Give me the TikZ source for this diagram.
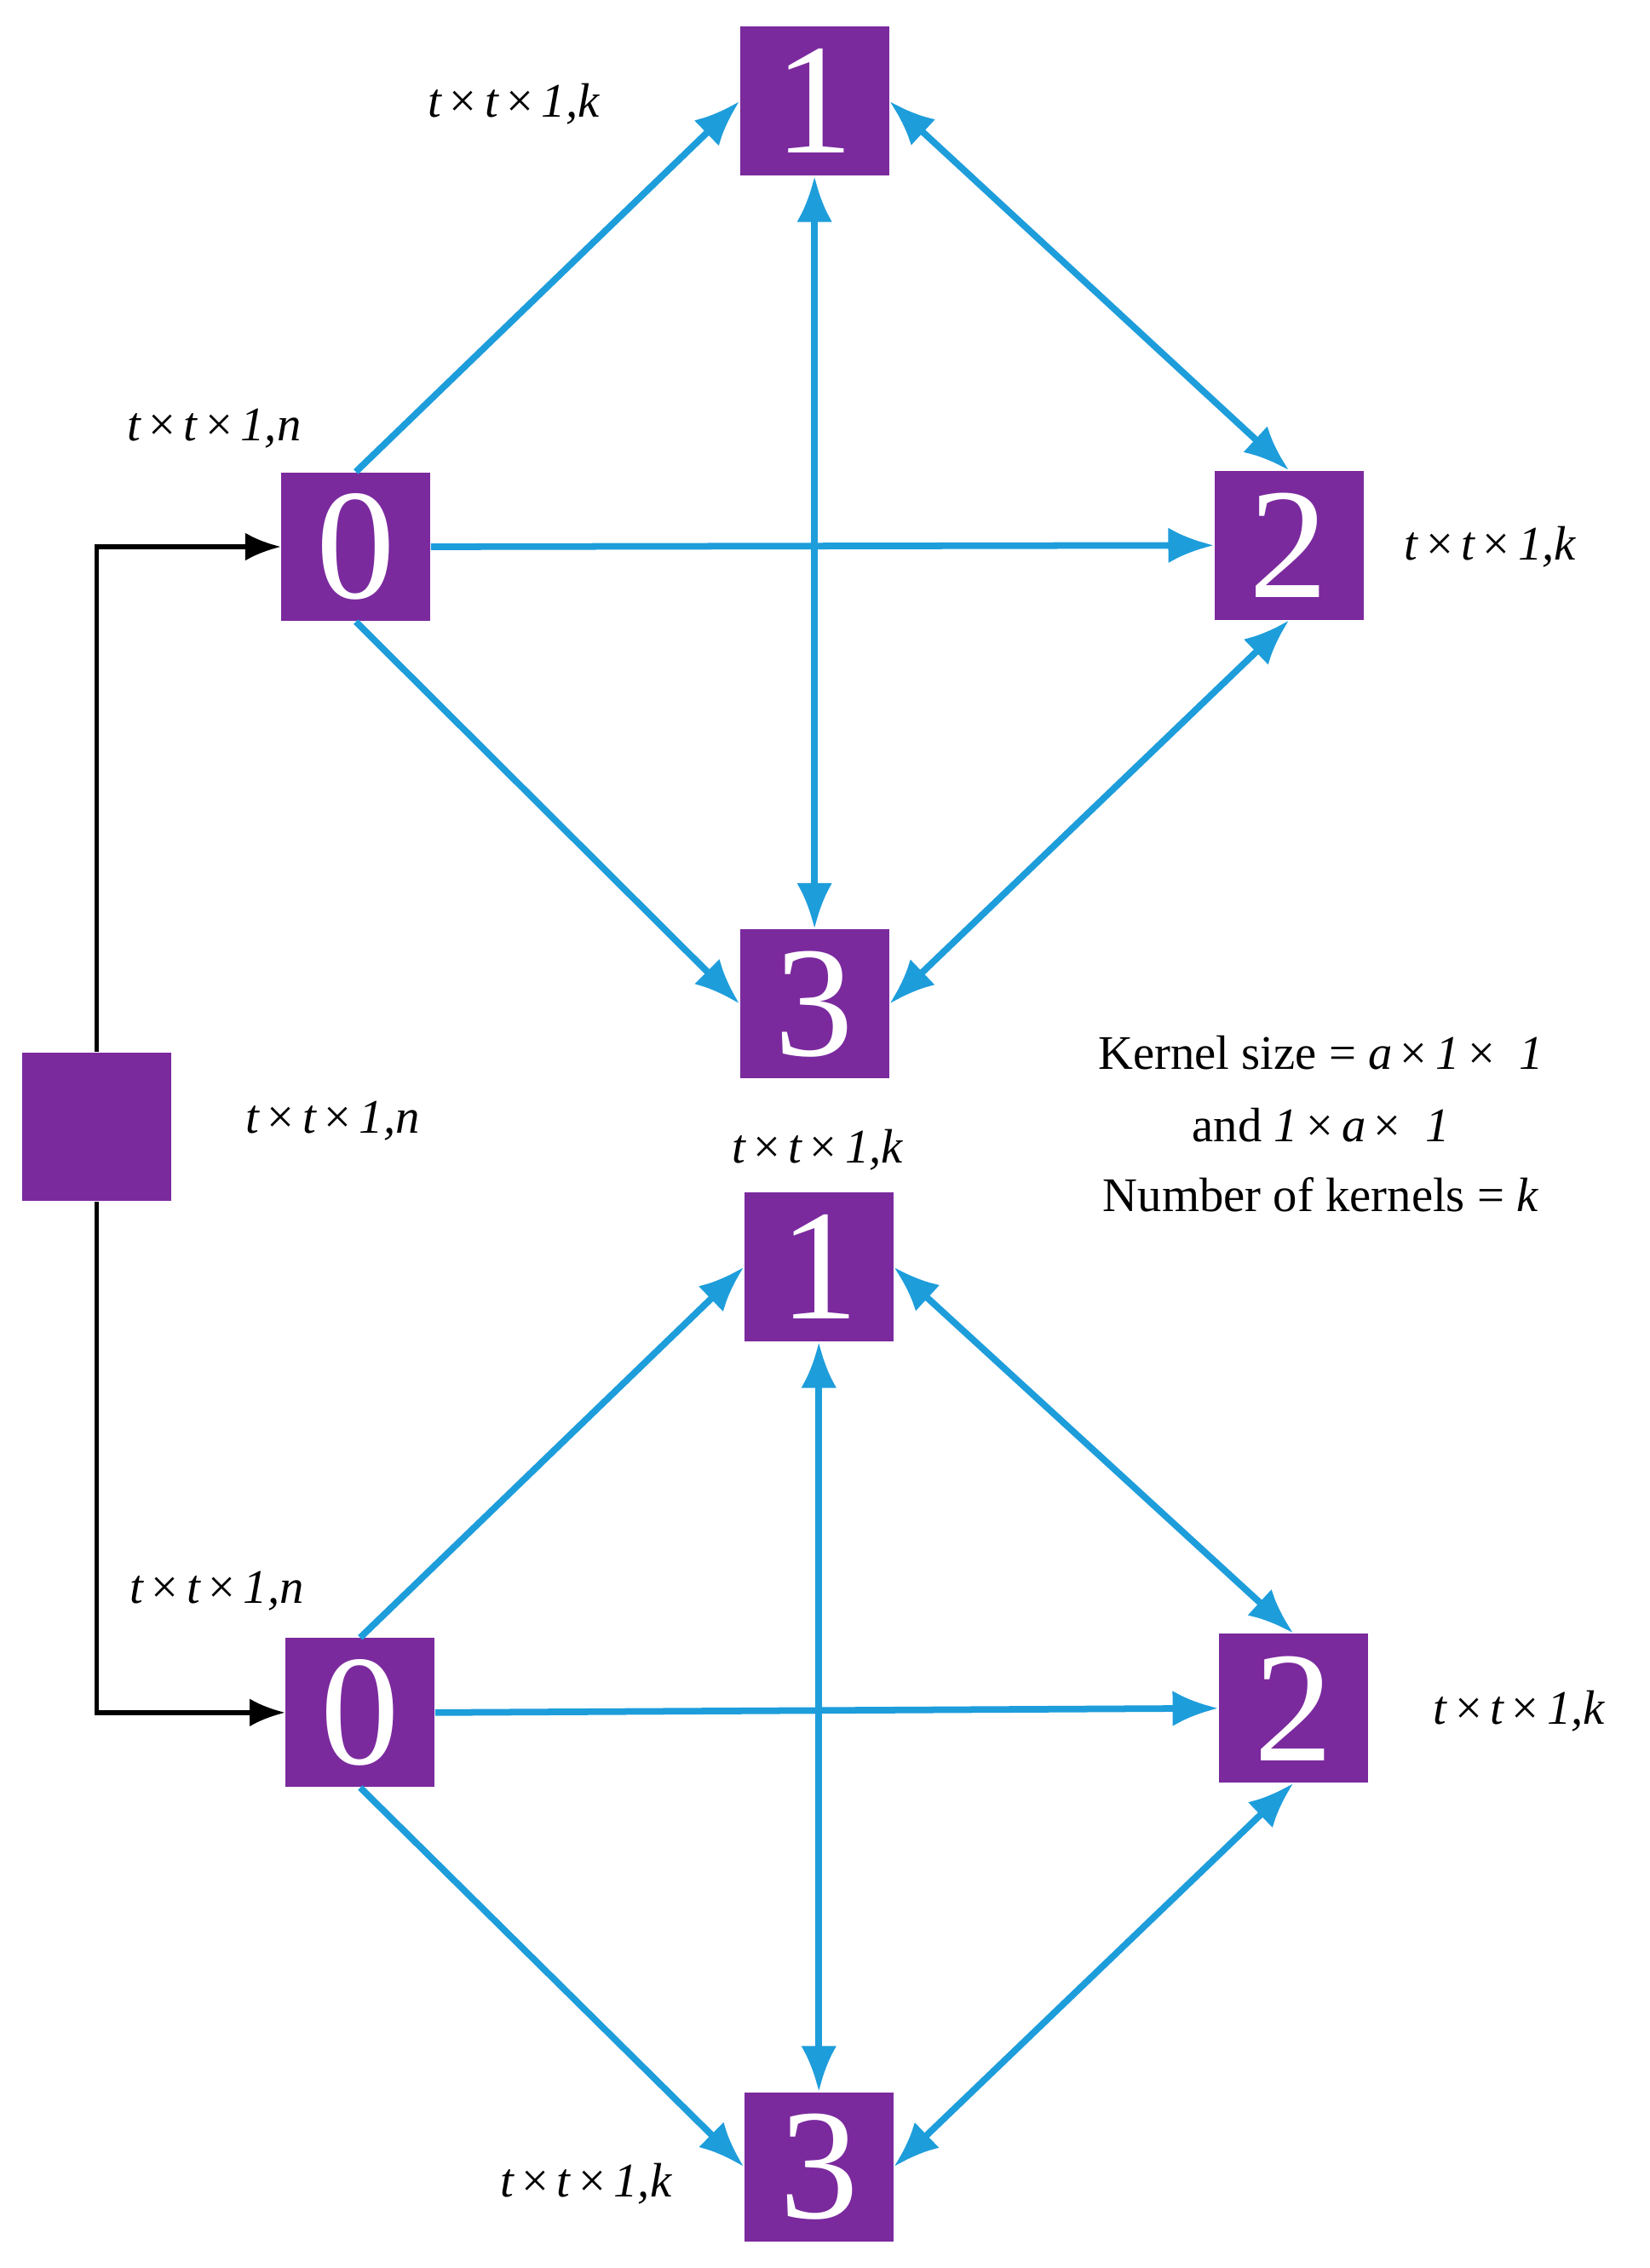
\documentclass[tikz,border=0pt]{standalone}
\usepackage{fontspec}
\setmainfont{Liberation Serif}
\usetikzlibrary{arrows.meta}
\definecolor{pur}{HTML}{7B2A9E}
\definecolor{blu}{HTML}{1E9DDB}
\begin{document}
\begin{tikzpicture}[x=0.02cm,y=-0.02cm,
 box/.style={fill=pur,minimum size=2.06cm,inner sep=0,text=white,font=\fontsize{62}{62}\selectfont},
 ba/.style={draw=blu,line width=2.6pt,-{Latex[length=18pt,width=14pt]}},
 bb/.style={draw=blu,line width=2.6pt,{Latex[length=18pt,width=14pt]}-{Latex[length=18pt,width=14pt]}},
 ka/.style={draw=black,line width=1.8pt,-{Latex[length=14pt,width=11pt]}},
 lab/.style={font=\fontsize{19}{22}\selectfont\itshape},
 ktxt/.style={font=\fontsize{19}{22}\selectfont}]
\useasboundingbox (0,0) rectangle (1140,1568);
\node[box] (a1) at (563,70) {1};
\node[box] (a0) at (246,378) {0};
\node[box] (a2) at (891,377) {2};
\node[box] (a3) at (563,694) {3};
\node[box] (s) at (67,779) {};
\node[box] (b1) at (566,876) {1};
\node[box] (b0) at (249,1184) {0};
\node[box] (b2) at (894,1181) {2};
\node[box] (b3) at (566,1498) {3};
\foreach \p in {a,b}{
 \draw[ba] (\p0.north) -- (\p1.west);
 \draw[bb] (\p1.east) -- (\p2.north);
 \draw[ba] (\p0.east) -- (\p2.west);
 \draw[ba] (\p0.south) -- (\p3.west);
 \draw[bb] (\p3.east) -- (\p2.south);
 \draw[bb] (\p1.south) -- (\p3.north);
}
\draw[ka] (s.north) |- (a0.west);
\draw[ka] (s.south) |- (b0.west);
\newcommand{\ttlab}[1]{t\,{\upshape×}\,t\,{\upshape×}\,1,#1}
\node[lab] (l1) at (355,72) {\ttlab{k}};
\node[lab] (l2) at (148,296) {\ttlab{n}};
\node[lab] (l3) at (1030,378) {\ttlab{k}};
\node[lab] (l4) at (230,775) {\ttlab{n}};
\node[lab] (l5) at (565,795) {\ttlab{k}};
\node[lab] (l6) at (150,1100) {\ttlab{n}};
\node[lab] (l7) at (1050,1183) {\ttlab{k}};
\node[lab] (l8) at (405,1510) {\ttlab{k}};
\node[ktxt] (k1) at (913,728) {Kernel size = \textit{a}\,×\,\textit{1}\,× \ \textit{1}};
\node[ktxt] (k2) at (913,778) {and \textit{1}\,×\,\textit{a}\,× \ \textit{1}};
\node[ktxt] (k3) at (913,826) {Number of kernels = \textit{k}};
\end{tikzpicture}
\end{document}
